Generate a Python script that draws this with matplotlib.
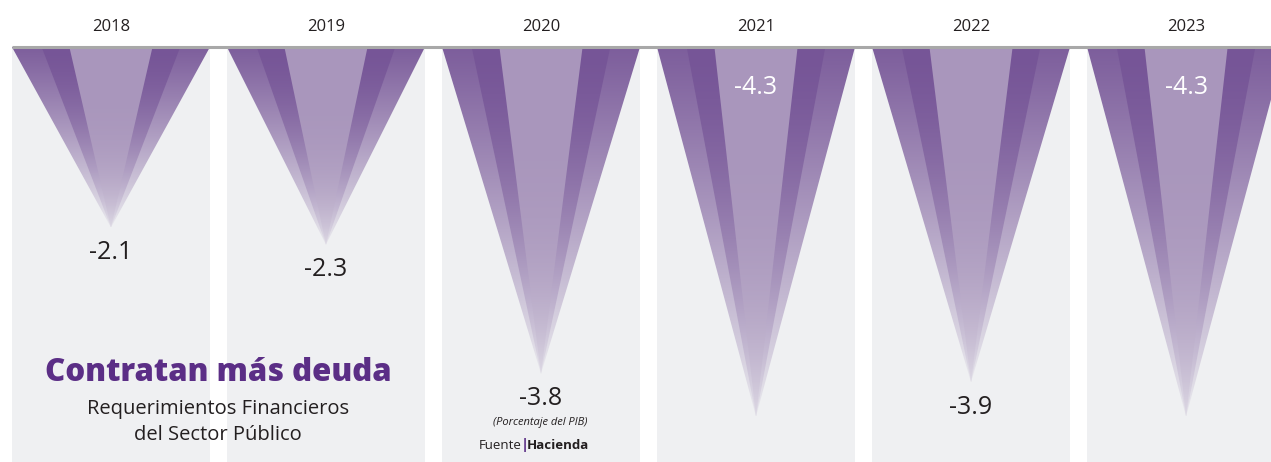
import numpy as np
import matplotlib
matplotlib.use("Agg")
import matplotlib.pyplot as plt
from matplotlib.patches import Polygon, Rectangle
from matplotlib.colors import to_rgb

# Requerimientos Financieros del Sector Publico (% del PIB)
years = ["2018", "2019", "2020", "2021", "2022", "2023"]
rfsp = [-2.1, -2.3, -3.8, -4.3, -3.9, -4.3]

panel_bg = "#eff0f2"
purple = "#5b2e86"
# (half width as share of panel, top colour, fade power, fade amount)
layers = [(1.0, "#7d5e9c", 1.1, 0.95),
          (0.70, "#765597", 1.7, 0.9),
          (0.42, "#a996bc", 4.0, 0.75)]

plt.rcParams["font.family"] = ["Open Sans", "DejaVu Sans"]

fig = plt.figure(figsize=(12.71, 4.62), dpi=100)
ax = fig.add_axes([0, 0, 1, 1])
ax.axis("off")

xlim = (-0.516, 5.395)
ylim = (-4.83, 0.547)
half = 0.4605
bg = np.array(to_rgb(panel_bg))
t = np.linspace(0, 1, 300)[:, None]

for i, v in enumerate(rfsp):
    ax.add_patch(Rectangle((i - half, ylim[0]), 2 * half, -ylim[0],
                           fc=panel_bg, lw=0, zorder=0))
    for frac, col, p, amt in layers:
        hw = half * frac
        tri = Polygon([(i - hw, 0), (i + hw, 0), (i, v)], closed=True,
                      fc="none", ec="none")
        ax.add_patch(tri)
        w = amt * t ** p
        img = (1 - w)[..., None] * np.array(to_rgb(col)) + w[..., None] * bg
        im = ax.imshow(img, extent=(i - hw, i + hw, v, 0), aspect="auto",
                       origin="upper", interpolation="bilinear", zorder=1)
        im.set_clip_path(tri)

    # year on top
    ax.annotate(years[i], (i, 0), xytext=(0, 14.5), textcoords="offset points",
                ha="center", va="center", fontsize=12, color="#231f20")
    # value label
    if v < -4.0:
        ax.annotate(f"{v:.1f}", (i, 0), xytext=(0, -29), textcoords="offset points",
                    ha="center", va="center", fontsize=18, color="white")
    else:
        ax.annotate(f"{v:.1f}", (i, v), xytext=(0, -18), textcoords="offset points",
                    ha="center", va="center", fontsize=18, color="#231f20")

ax.plot([-half, xlim[1]], [0, 0], color="#a8a8a8", lw=2.2, zorder=3,
        solid_capstyle="butt")

ax.set_xlim(*xlim)
ax.set_ylim(*ylim)

W, H = 1271, 462
fig.text(218 / W, 1 - 381 / H, "Contratan más deuda", ha="center", va="baseline",
         fontsize=22.5, fontweight="heavy", color=purple)
fig.text(218 / W, 1 - 414 / H, "Requerimientos Financieros", ha="center",
         va="baseline", fontsize=14.5, color="#231f20")
fig.text(218 / W, 1 - 440 / H, "del Sector Público", ha="center",
         va="baseline", fontsize=14.5, color="#231f20")
fig.text(540 / W, 1 - 425 / H, "(Porcentaje del PIB)", ha="center", va="baseline",
         fontsize=8, style="italic", color="#231f20")
fig.text(522 / W, 1 - 449 / H, "Fuente", ha="right", va="baseline",
         fontsize=9.5, color="#231f20")
fig.text(524.5 / W, 1 - 449 / H, "|", ha="center", va="baseline",
         fontsize=10.5, fontweight="bold", color=purple)
fig.text(527 / W, 1 - 449 / H, "Hacienda", ha="left", va="baseline",
         fontsize=9.5, fontweight="bold", color="#231f20")

fig.savefig("out.png", dpi=100, facecolor="white")
